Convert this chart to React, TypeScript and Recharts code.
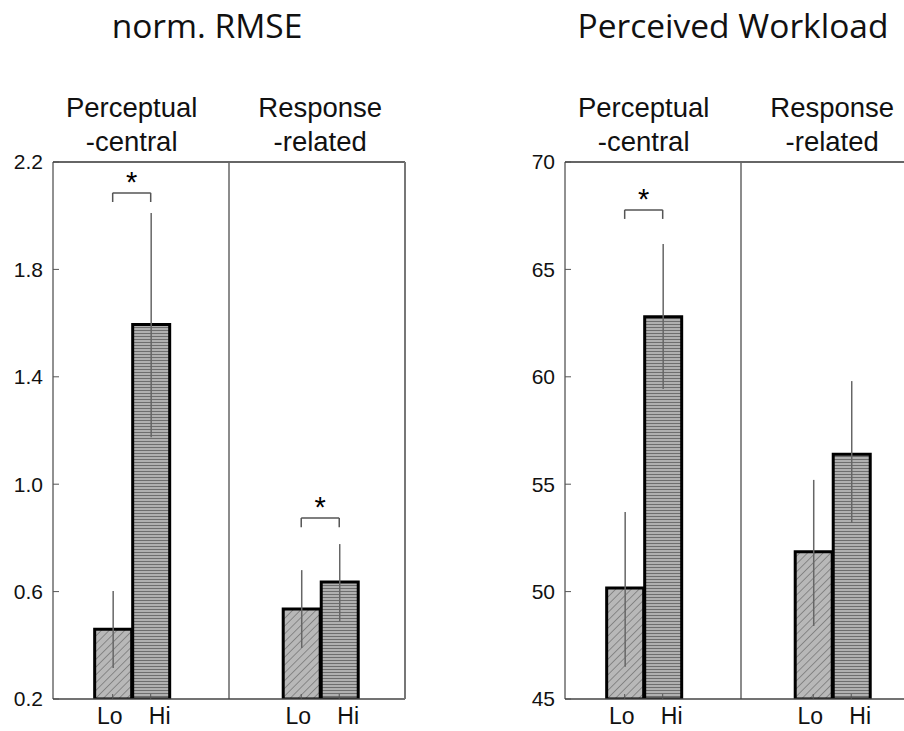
import React from "react";
import {
  BarChart,
  Bar,
  Cell,
  XAxis,
  YAxis,
  ErrorBar,
  ReferenceLine,
} from "recharts";

const conditions = ["Lo", "Hi", "Lo", "Hi"];
const groupNames = [
  ["Perceptual", "-central"],
  ["Response", "-related"],
];
const barPositions = [1.57, 2.57, 6.53, 7.53];
const dividerPosition = 4.63;
const xDomain: [number, number] = [0, 9.26];

const rmseMean = [0.46, 1.595, 0.535, 0.636];
const rmseLow = [0.315, 1.175, 0.39, 0.49];
const rmseHigh = [0.602, 2.01, 0.68, 0.777];
const rmseTicks = [0.2, 0.6, 1.0, 1.4, 1.8, 2.2];

const workloadMean = [50.17, 62.8, 51.85, 56.4];
const workloadLow = [46.5, 59.43, 48.4, 53.2];
const workloadHigh = [53.7, 66.18, 55.2, 59.8];
const workloadTicks = [45, 50, 55, 60, 65, 70];

// significance brackets: bar index pair, bracket height, leg drop (data units)
const rmseSig = [
  { from: 0, to: 1, y: 2.085, drop: 0.034 },
  { from: 2, to: 3, y: 0.874, drop: 0.034 },
];
const workloadSig = [{ from: 0, to: 1, y: 67.77, drop: 0.42 }];

const FONT = "'Liberation Sans', Arial, sans-serif";
const TITLE_FONT = "'Open Sans', 'Noto Sans', sans-serif";

interface Sig {
  from: number;
  to: number;
  y: number;
  drop: number;
}

interface PanelProps {
  left: number;
  titleCenter: number;
  title: string;
  mean: number[];
  low: number[];
  high: number[];
  ticks: number[];
  digits: number;
  sig: Sig[];
}

// Lo/Hi labels sit a little apart from the bar centres in the original
function CondTick(props: any) {
  const { x, y, payload, index } = props;
  const cond = conditions[index ?? 0] ?? "";
  const shift = cond === "Lo" ? -3 : 9;
  return (
    <text
      x={x + shift}
      y={y}
      dy="0.71em"
      textAnchor="middle"
      fontSize={23}
      fill="#111"
      fontFamily={FONT}
      data-v={payload?.value}
    >
      {cond}
    </text>
  );
}

function Panel({ left, titleCenter, title, mean, low, high, ticks, digits, sig }: PanelProps) {
  const data = mean.map((m, i) => ({
    x: barPositions[i],
    value: m,
    err: [m - low[i], high[i] - m],
    cond: conditions[i],
  }));
  const domain: [number, number] = [ticks[0], ticks[ticks.length - 1]];
  const plotLeft = 53;
  const plotWidth = 352;
  const unit = plotWidth / (xDomain[1] - xDomain[0]);

  return (
    <div style={{ position: "absolute", left, top: 0, width: 420, height: 731 }}>
      <div
        style={{
          position: "absolute",
          left: titleCenter - 220,
          width: 440,
          top: 2,
          textAlign: "center",
          fontFamily: TITLE_FONT,
          fontSize: 33.5,
          color: "#111",
          whiteSpace: "nowrap",
        }}
      >
        {title}
      </div>
      {groupNames.map((g, gi) => {
        const center =
          plotLeft + ((barPositions[gi * 2] + barPositions[gi * 2 + 1]) / 2) * unit;
        return (
          <div
            key={gi}
            style={{
              position: "absolute",
              left: center - 100,
              width: 200,
              top: 91,
              textAlign: "center",
              fontFamily: FONT,
              fontSize: 27.5,
              lineHeight: "34px",
              color: "#111",
            }}
          >
            {g[0]}
            <br />
            {g[1]}
          </div>
        );
      })}
      <BarChart
        width={420}
        height={731}
        data={data}
        margin={{ top: 160, right: 13, bottom: 0, left: 0 }}
        style={{ position: "absolute", left: 0, top: 0 }}
      >
        <XAxis
          dataKey="x"
          type="number"
          domain={xDomain}
          allowDataOverflow
          ticks={barPositions}
          interval={0}
          height={32}
          tickSize={-5}
          tickMargin={14}
          tick={<CondTick />}
          axisLine={{ stroke: "#444", strokeWidth: 1.5 }}
          tickLine={{ stroke: "#555" }}
        />
        <XAxis
          xAxisId="top"
          orientation="top"
          type="number"
          domain={xDomain}
          allowDataOverflow
          height={2}
          tick={false}
          tickLine={false}
          axisLine={{ stroke: "#666", strokeWidth: 2 }}
        />
        <YAxis
          type="number"
          domain={domain}
          allowDataOverflow
          ticks={ticks}
          interval={0}
          width={53}
          tickSize={-6}
          tickMargin={16}
          tickFormatter={(v: number) => v.toFixed(digits)}
          tick={{ fontSize: 21, fill: "#111", fontFamily: FONT }}
          axisLine={{ stroke: "#222", strokeWidth: 1 }}
          tickLine={{ stroke: "#555" }}
        />
        <YAxis
          yAxisId="right"
          orientation="right"
          type="number"
          domain={domain}
          allowDataOverflow
          ticks={ticks}
          interval={0}
          width={2}
          tickSize={-6}
          tick={false}
          axisLine={{ stroke: "#777", strokeWidth: 2 }}
          tickLine={{ stroke: "#666", strokeWidth: 1.5 }}
        />
        <ReferenceLine
          x={dividerPosition}
          stroke="#666"
          strokeWidth={1.5}
        />
        <Bar dataKey="value" barSize={37} isAnimationActive={false}>
          {data.map((d, i) => (
            <Cell
              key={i}
              fill={d.cond === "Lo" ? "url(#hatchDiag)" : "url(#hatchHoriz)"}
              stroke="#000"
              strokeWidth={3}
            />
          ))}
          <ErrorBar
            dataKey="err"
            width={0}
            stroke="#666"
            strokeWidth={1.5}
            isAnimationActive={false}
          />
        </Bar>
        {sig.map((s, i) => [
          <ReferenceLine
            key={`h${i}`}
            segment={[
              { x: barPositions[s.from], y: s.y },
              { x: barPositions[s.to], y: s.y },
            ]}
            stroke="#555"
            strokeWidth={1.5}
            label={{
              value: "*",
              position: "top",
              offset: 1,
              fontSize: 29,
              fill: "#000",
              fontFamily: FONT,
            }}
          />,
          <ReferenceLine
            key={`a${i}`}
            segment={[
              { x: barPositions[s.from], y: s.y },
              { x: barPositions[s.from], y: s.y - s.drop },
            ]}
            stroke="#555"
            strokeWidth={1.5}
          />,
          <ReferenceLine
            key={`b${i}`}
            segment={[
              { x: barPositions[s.to], y: s.y },
              { x: barPositions[s.to], y: s.y - s.drop },
            ]}
            stroke="#555"
            strokeWidth={1.5}
          />,
        ])}
      </BarChart>
    </div>
  );
}

export default function App() {
  return (
    <div
      style={{
        position: "absolute",
        left: 0,
        top: 0,
        width: 904,
        height: 731,
        overflow: "hidden",
        background: "#fff",
      }}
    >
      <svg width={0} height={0} style={{ position: "absolute" }}>
        <defs>
          <pattern
            id="hatchDiag"
            width={5.5}
            height={5.5}
            patternUnits="userSpaceOnUse"
            patternTransform="rotate(45)"
          >
            <rect width={5.5} height={5.5} fill="#b8b8b8" />
            <line x1={0} y1={0} x2={0} y2={5.5} stroke="#555" strokeWidth={1} />
          </pattern>
          <pattern id="hatchHoriz" width={4} height={3} patternUnits="userSpaceOnUse">
            <rect width={4} height={3} fill="#b0b0b0" />
            <line x1={0} y1={0.5} x2={4} y2={0.5} stroke="#6e6e6e" strokeWidth={1} />
          </pattern>
        </defs>
      </svg>
      <Panel
        left={0}
        titleCenter={207}
        title="norm. RMSE"
        mean={rmseMean}
        low={rmseLow}
        high={rmseHigh}
        ticks={rmseTicks}
        digits={1}
        sig={rmseSig}
      />
      <Panel
        left={512}
        titleCenter={221}
        title="Perceived Workload"
        mean={workloadMean}
        low={workloadLow}
        high={workloadHigh}
        ticks={workloadTicks}
        digits={0}
        sig={workloadSig}
      />
    </div>
  );
}
